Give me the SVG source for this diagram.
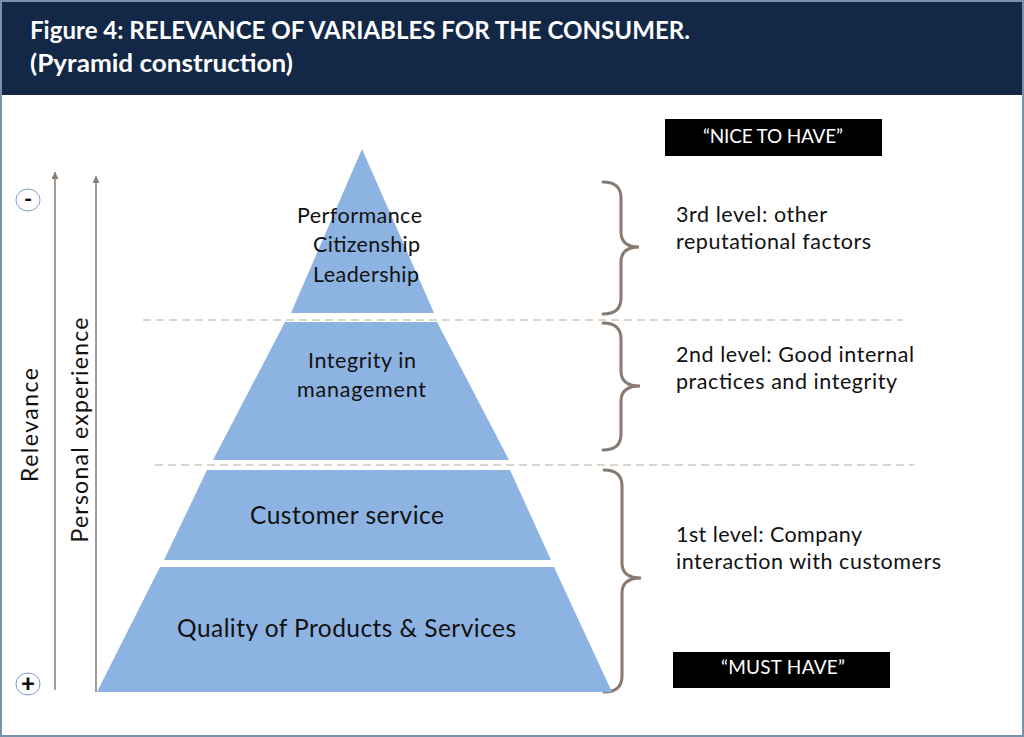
<svg xmlns="http://www.w3.org/2000/svg" width="1024" height="737" viewBox="0 0 1024 737">
<style>
.hdr{font-family:Lato,"Liberation Sans",sans-serif;font-weight:bold;font-size:24px;fill:#ffffff}
.t{font-family:Lato,"Liberation Sans",sans-serif;fill:#111111}
.pyr{fill:#8db3e2}
.brace{fill:none;stroke:#8a7b72;stroke-width:3;stroke-linecap:round}
.dash{stroke:#d9d6ce;stroke-width:2;stroke-dasharray:8 5}
.axis{stroke:#8a7b72;stroke-width:1.5}
.tag{fill:#000000}
.tagt{font-family:Lato,"Liberation Sans",sans-serif;font-size:19px;fill:#ffffff}
.circ{fill:#ffffff;stroke:#7d9cc4;stroke-width:1}
.sym{stroke:#000000;stroke-width:2.5}
</style>
<defs>
<marker id="ah" viewBox="0 0 10 10" refX="10" refY="5" markerWidth="7" markerHeight="7" orient="auto" markerUnits="userSpaceOnUse">
<path d="M0,0 L10,5 L0,10 z" fill="#8a7b72"/>
</marker>
</defs>
<rect x="0" y="0" width="1024" height="737" fill="#ffffff"/>
<g id="header">
<rect x="0" y="0" width="1024" height="95" fill="#132747"/>
<text class="hdr" x="30" y="39" textLength="660" lengthAdjust="spacingAndGlyphs">Figure 4: RELEVANCE OF VARIABLES FOR THE CONSUMER.</text>
<text class="hdr" x="30" y="72" textLength="263" lengthAdjust="spacingAndGlyphs">(Pyramid construction)</text>
</g>
<rect x="1" y="1" width="1022" height="735" fill="none" stroke="#7890aa" stroke-width="2"/>

<g id="connectors">
<line class="dash" x1="143" y1="320" x2="903" y2="320"/>
<line class="dash" x1="155" y1="465" x2="914" y2="465"/>
<line class="axis" x1="55" y1="690" x2="55" y2="172" marker-end="url(#ah)"/>
<line class="axis" x1="96" y1="692" x2="96" y2="176" marker-end="url(#ah)"/>
<path class="brace" d="M603,182 Q621,182 621,198 L621,232 Q621,247 639,247 Q621,247 621,262 L621,298 Q621,314 603,314"/>
<path class="brace" d="M603,323 Q621,323 621,339 L621,371 Q621,386 640,386 Q621,386 621,401 L621,434 Q621,450 603,450"/>
<path class="brace" d="M604,470 Q622,470 622,486 L622,563 Q622,578 641,578 Q622,578 622,593 L622,676 Q622,692 604,692"/>
</g>

<g id="tier-top">
<polygon class="pyr" points="362,149 434,313 291,313"/>
<text class="t" font-size="21.5" x="297" y="223" textLength="125">Performance</text>
<text class="t" font-size="21.5" x="313" y="252" textLength="107">Citizenship</text>
<text class="t" font-size="21.5" x="313" y="282" textLength="106">Leadership</text>
</g>
<g id="tier-integrity">
<polygon class="pyr" points="285,322 437,322 509,460 213,460"/>
<text class="t" font-size="21.5" x="308" y="368" textLength="108">Integrity in</text>
<text class="t" font-size="21.5" x="297" y="397" textLength="129">management</text>
</g>
<g id="tier-customer">
<polygon class="pyr" points="207,470 510,470 551,560 164,560"/>
<text class="t" font-size="24.5" x="250" y="524" textLength="194">Customer service</text>
</g>
<g id="tier-quality">
<polygon class="pyr" points="160,567 554,567 612,692 97,692"/>
<text class="t" font-size="24.5" x="177" y="637" textLength="339">Quality of Products &amp; Services</text>
</g>

<g id="axis-relevance">
<text class="t" font-size="23" text-anchor="middle" transform="translate(38,425) rotate(-90)" textLength="114">Relevance</text>
<ellipse class="circ" cx="28" cy="200" rx="12" ry="11"/>
<text class="t" font-size="22" font-weight="bold" text-anchor="middle" x="28" y="207">-</text>
<ellipse class="circ" cx="28" cy="684" rx="12" ry="11"/>
<text class="t" font-size="24" font-weight="900" text-anchor="middle" x="28" y="692">+</text>
</g>
<g id="axis-experience">
<text class="t" font-size="23" text-anchor="middle" transform="translate(88,430) rotate(-90)" textLength="225">Personal experience</text>
</g>

<g id="level3">
<text class="t" font-size="21.5" x="676" y="222" textLength="151">3rd level: other</text>
<text class="t" font-size="21.5" x="676" y="249" textLength="195">reputational factors</text>
</g>
<g id="level2">
<text class="t" font-size="21.5" x="676" y="362" textLength="238">2nd level: Good internal</text>
<text class="t" font-size="21.5" x="676" y="389" textLength="221">practices and integrity</text>
</g>
<g id="level1">
<text class="t" font-size="21.5" x="676" y="542" textLength="186">1st level: Company</text>
<text class="t" font-size="21.5" x="676" y="569" textLength="265">interaction with customers</text>
</g>

<g id="nice-to-have">
<rect class="tag" x="665" y="119" width="217" height="37"/>
<text class="tagt" x="773" y="143" text-anchor="middle" textLength="140">“NICE TO HAVE”</text>
</g>
<g id="must-have">
<rect class="tag" x="673" y="652" width="217" height="36"/>
<text class="tagt" x="783" y="674" text-anchor="middle" textLength="124">“MUST HAVE”</text>
</g>
</svg>
